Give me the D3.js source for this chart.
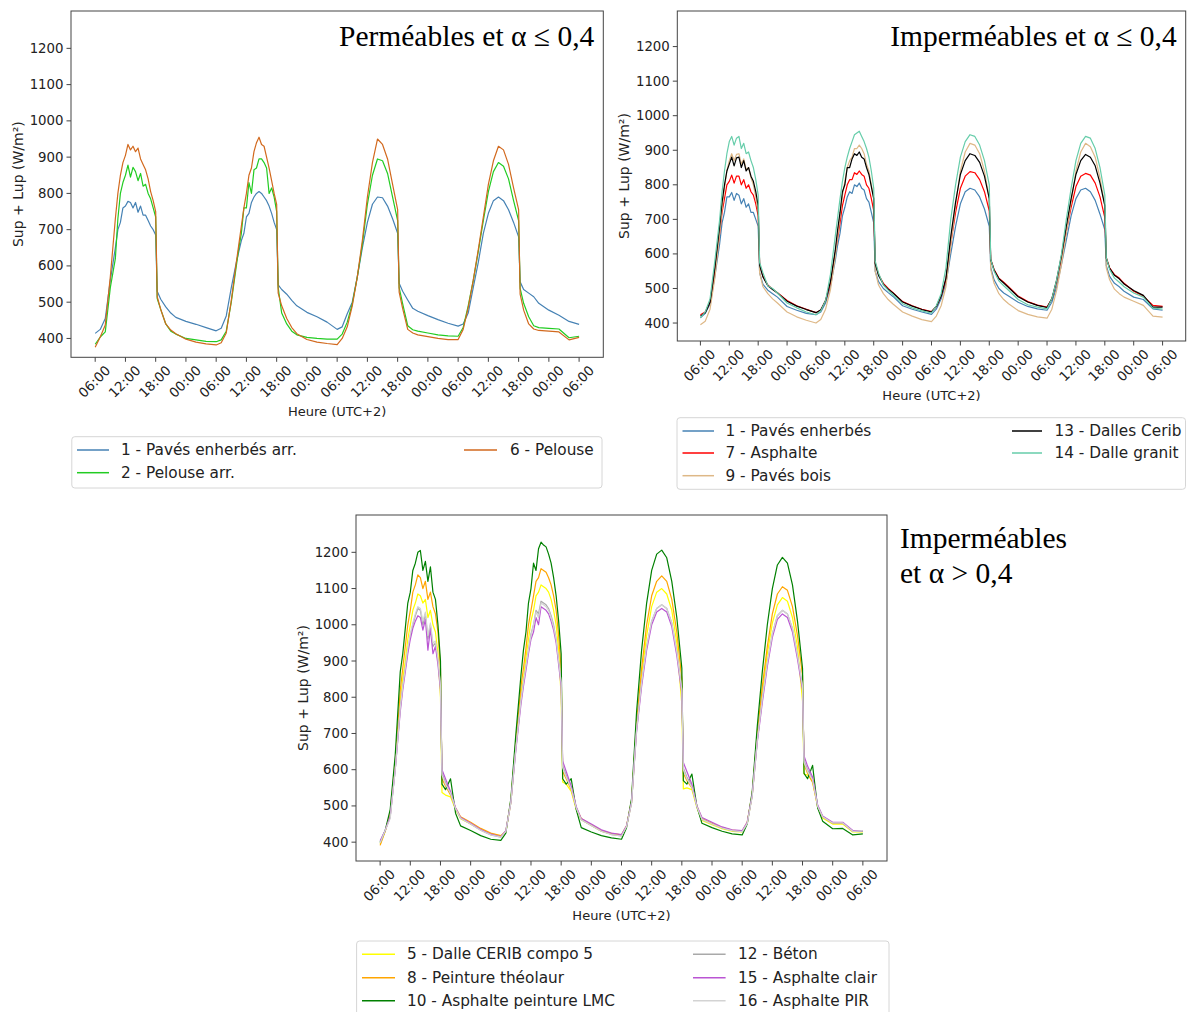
<!DOCTYPE html>
<html><head><meta charset="utf-8">
<script src="https://cdn.jsdelivr.net/npm/d3@7"></script>
<style>body{margin:0;background:#fff;} svg{display:block;}</style>
</head><body>
<svg id="c" width="1189" height="1012"></svg>
<script>
// time stamps in hours since the first 06:00 (half-hours on the two cloudy days)
const hours = [
 0,1,2,3,4,4.5,5,5.5,6,6.5,7,7.5,8,8.5,9,9.5,10,10.5,11,11.5,12,12.3,13,14,15,16,18,20,22,
 24,25,26,27,28,28.5,29,29.5,30,30.5,31,31.5,32,32.5,33,33.5,34,34.5,35,35.5,36,36.3,37,38,39,40,42,44,46,
 48,49,50,51,52,53,54,55,56,57,58,59,60,60.3,61,62,63,64,66,68,70,
 72,73,74,75,76,77,78,79,80,81,82,83,84,84.3,85,86,87,88,90,92,94,
 96];
const tickHours = [0,6,12,18,24,30,36,42,48,54,60,66,72,78,84,90,96];
const tickLabels = ["06:00","12:00","18:00","00:00","06:00","12:00","18:00","00:00","06:00","12:00","18:00","00:00","06:00","12:00","18:00","00:00","06:00"];
const yTicks = [400,500,600,700,800,900,1000,1100,1200];

// Panel 1 : Perméables et α ≤ 0,4
const p1Names = ["1 - Pavés enherbés arr.","2 - Pelouse arr.","6 - Pelouse"];
const p1_s1 = [
 414,425,455,560,650,700,720,760,765,778,775,760,775,748,765,740,740,725,710,700,685, 530,508,487,470,458,447,439,430,
 421,428,462,540,610,640,670,690,735,745,775,790,800,805,800,790,780,765,745,720,700, 548,535,522,505,490,472,460,445,
 425,432,468,500,570,650,720,770,790,788,765,730,690, 552,530,506,483,475,463,452,442,
 434,440,470,540,610,690,745,780,790,780,755,720,680, 556,535,525,515,497,478,464,447,
 439];
const p1_s2 = [
 384,404,418,540,620,730,800,830,850,878,845,872,860,835,855,820,825,800,785,760,735, 510,480,440,420,412,400,396,392,
 391,396,420,500,600,650,690,760,760,830,800,865,870,895,895,885,870,800,815,790,750, 540,470,440,420,410,403,400,398,
 398,412,445,495,570,660,770,850,895,890,855,790,725, 540,495,435,424,420,415,410,407,
 406,430,490,560,640,725,805,860,885,875,840,780,725, 538,497,460,435,430,428,426,402,
 406];
const p1_s6 = [
 376,404,437,570,730,800,850,885,905,935,920,930,915,925,895,880,865,840,805,780,750, 515,480,440,423,413,398,390,385,
 382,388,415,505,610,660,710,760,800,850,870,915,940,955,935,930,900,870,835,800,770, 525,490,455,430,413,397,390,386,
 383,400,432,490,570,670,790,885,950,935,895,825,755, 528,482,425,415,410,405,400,397,
 397,425,485,560,645,735,825,890,930,920,880,815,755, 522,478,440,426,422,420,418,396,
 403];

// Panel 2 : Imperméables et α ≤ 0,4
const p2Names = ["1 - Pavés enherbés","7 - Asphalte","9 - Pavés bois","13 - Dalles Cerib","14 - Dalle granit"];
const p2_s1 = [
 415,428,455,535,630,690,720,765,765,778,755,775,770,745,760,735,745,720,720,700,680, 545,512,495,485,475,448,437,428,
 424,432,458,505,580,625,660,710,735,765,780,775,800,795,805,790,785,760,750,720,690, 550,520,500,488,477,450,440,432,
 425,440,470,515,600,680,745,780,790,785,765,730,680, 560,525,500,487,478,460,448,441,
 437,460,505,570,640,710,760,785,790,780,755,715,670, 566,535,515,505,492,475,468,441,
 437];
const p2_s7 = [
 424,432,460,550,660,720,760,800,810,828,805,825,825,800,815,790,800,780,770,745,710, 570,535,510,498,488,465,450,440,
 430,438,465,515,600,645,690,740,770,800,815,815,835,830,840,830,825,800,790,760,725, 575,540,515,500,488,462,450,440,
 433,448,478,525,630,720,790,825,838,835,815,780,725, 585,555,530,518,505,478,462,452,
 446,470,520,590,665,735,795,825,833,828,805,765,705, 590,560,540,530,515,492,478,451,
 448];
const p2_s9 = [
 395,405,440,530,660,730,790,840,870,890,870,888,890,860,875,845,850,820,800,765,720, 545,505,485,470,458,432,418,408,
 400,410,440,495,590,650,710,770,810,850,870,880,905,905,915,905,890,860,840,800,760, 550,510,485,468,455,432,420,410,
 404,420,450,505,625,740,840,895,920,915,890,840,760, 555,515,485,468,456,436,425,418,
 414,440,495,570,660,750,840,895,920,910,880,820,740, 560,525,498,485,475,463,451,420,
 417];
const p2_s13 = [
 420,430,460,560,680,750,800,840,860,880,855,878,880,850,870,840,850,825,810,780,740, 568,533,508,497,487,463,449,439,
 430,438,465,520,610,670,720,780,800,850,850,875,890,885,895,880,875,850,830,795,760, 572,538,512,498,487,461,449,439,
 432,448,478,530,650,750,830,870,890,885,865,825,760, 583,553,528,516,503,476,461,451,
 445,470,525,595,680,760,830,870,888,880,855,805,740, 588,558,538,528,513,494,480,446,
 446];
const p2_s14 = [
 415,432,470,580,700,780,840,890,925,940,915,935,940,905,920,890,895,870,850,815,770, 575,545,508,500,487,458,444,432,
 424,435,465,540,650,705,760,810,850,880,905,925,945,950,955,940,925,905,880,840,790, 580,545,510,495,482,456,444,435,
 429,450,485,560,700,800,880,925,945,940,915,870,800, 585,550,522,508,495,468,453,446,
 441,470,525,600,700,790,870,920,940,935,905,850,770, 590,555,530,518,505,487,475,443,
 440];

// Panel 3 : Imperméables et α > 0,4
const p3Names = ["5 - Dalle CERIB compo 5","8 - Peinture théolaur","10 - Asphalte peinture LMC","12 - Béton","15 - Asphalte clair","16 - Asphalte PIR"];
const p3_s5 = [
 395,430,475,610,790,850,900,960,1000,1040,1060,1085,1080,1060,1070,1020,1040,1000,980,920,800, 537,530,525,490,465,450,434,422,
 415,428,510,670,810,850,910,960,1010,1040,1080,1090,1110,1105,1100,1090,1070,1040,1000,930,800, 566,560,540,490,462,446,430,422,
 418,443,510,720,860,970,1050,1090,1100,1085,1040,950,780, 547,550,545,495,460,448,437,430,
 428,452,530,690,810,920,1005,1055,1075,1065,1020,940,790, 588,585,570,497,467,450,450,428,
 428];
const p3_s8 = [
 391,430,480,620,820,880,940,1000,1040,1090,1110,1138,1130,1100,1120,1070,1090,1050,1030,980,880, 575,555,530,495,470,455,438,425,
 418,430,515,680,830,880,935,1000,1040,1080,1120,1130,1155,1150,1145,1130,1110,1080,1040,970,880, 595,575,545,495,465,448,432,424,
 420,445,515,730,880,1000,1080,1120,1135,1120,1070,980,850, 590,570,550,500,465,452,440,433,
 430,455,535,700,830,940,1030,1085,1105,1095,1050,970,860, 615,590,565,500,470,452,452,430,
 430];
const p3_s10 = [
 400,432,490,640,870,920,990,1060,1090,1150,1170,1200,1205,1150,1175,1120,1160,1090,1070,1000,900, 560,545,575,480,445,432,418,408,
 405,425,520,700,860,930,980,1060,1100,1170,1150,1210,1228,1220,1215,1195,1170,1130,1080,1010,920, 575,560,575,490,440,428,418,412,
 408,440,520,760,930,1060,1150,1195,1206,1185,1120,1020,880, 570,560,588,498,452,440,430,423,
 420,450,540,720,870,1000,1100,1165,1186,1170,1110,1010,880, 590,575,612,495,458,437,438,420,
 423];
const p3_s12 = [
 398,432,470,600,770,830,880,930,970,1000,1025,1045,1040,1000,1030,960,1000,940,950,900,830, 590,565,535,493,466,450,433,420,
 414,430,510,660,790,840,885,930,975,1000,1040,1030,1065,1060,1055,1045,1025,1000,960,900,840, 610,585,550,495,462,446,430,421,
 417,443,508,710,840,940,1010,1045,1055,1045,1005,925,820, 605,580,555,498,463,450,439,432,
 429,452,528,680,795,895,975,1025,1040,1030,990,915,830, 625,600,575,500,470,453,453,430,
 430];
const p3_s15 = [
 404,432,470,600,760,820,870,920,960,990,1010,1025,1020,985,1015,930,990,920,940,890,820, 600,575,540,495,468,452,435,422,
 415,432,510,655,780,830,875,920,960,980,1020,1000,1050,1045,1040,1030,1010,985,950,890,830, 624,595,555,498,465,450,434,425,
 421,445,510,705,830,930,1000,1035,1045,1035,995,915,810, 620,595,560,500,468,455,442,434,
 432,455,530,675,785,885,965,1015,1030,1020,980,905,820, 638,610,580,503,472,455,455,432,
 432];
const p3_s16 = [
 398,432,465,600,770,830,880,935,975,1005,1030,1050,1045,1010,1035,970,1005,950,955,905,830, 585,560,535,493,466,450,433,420,
 414,430,510,660,790,840,885,930,970,1000,1035,1020,1060,1055,1050,1040,1020,995,960,900,840, 605,580,548,495,462,446,430,421,
 417,443,508,710,840,940,1010,1045,1055,1045,1005,925,820, 600,575,552,498,463,450,439,432,
 429,452,528,680,795,895,975,1025,1040,1030,990,915,830, 620,595,572,500,470,453,453,430,
 432];

const svg = d3.select("#c");
const yDomain = [348, 1303];
const xDomain = [-4.8, 100.8];
const sans = "DejaVu Sans, sans-serif";
const serif = "Liberation Serif, Times New Roman, serif";

const panels = [
 {box:[71,11,603.3,357.3], names:p1Names, data:[p1_s1,p1_s2,p1_s6],
  colors:["steelblue","#22cc22","#d2691e"],
  title:["Perméables et α ≤ 0,4"], titleInside:true,
  legend:{box:[71.8,436.7,602,488], rows:[450,472.7], cols:[[77,109,121],[464,497,510]], per:2}},
 {box:[677.3,11,1185.7,341], names:p2Names, data:[p2_s1,p2_s7,p2_s9,p2_s13,p2_s14],
  colors:["steelblue","#ff0000","#deb887","#000000","#66cdaa"],
  title:["Imperméables et α ≤ 0,4"], titleInside:true,
  legend:{box:[677,417.7,1185.5,489.3], rows:[431,453,475.7], cols:[[682.5,714,725.5],[1012,1042,1054.5]], per:3}},
 {box:[356,515,887,861], names:p3Names, data:[p3_s5,p3_s8,p3_s10,p3_s12,p3_s15,p3_s16],
  colors:["#ffff00","#ffa500","#008000","#a9a9a9","#ba55d3","#d3d3d3"],
  title:["Imperméables","et α > 0,4"], titleInside:false,
  legend:{box:[356.6,941,889,1024], rows:[954.3,977.7,1000.7], cols:[[362,395,407],[693,725.6,738]], per:3}}
];

panels.forEach(p => {
  const [L,T,R,B] = p.box;
  const x = d3.scaleLinear().domain(xDomain).range([L,R]);
  const y = d3.scaleLinear().domain(yDomain).range([B,T]);
  const g = svg.append("g");
  const cid = "clip"+Math.round(L);
  svg.append("clipPath").attr("id",cid).append("rect").attr("x",L).attr("y",T).attr("width",R-L).attr("height",B-T);
  const line = d3.line().x((d,i)=>x(hours[i])).y(d=>y(d));
  const lg = g.append("g").attr("clip-path",`url(#${cid})`);
  p.data.forEach((s,k)=>{
    lg.append("path").attr("d",line(s)).attr("fill","none")
      .attr("stroke",p.colors[k]).attr("stroke-width",1.2).attr("stroke-linejoin","round");
  });
  g.append("rect").attr("x",L).attr("y",T).attr("width",R-L).attr("height",B-T)
    .attr("fill","none").attr("stroke","#444").attr("stroke-width",1);
  yTicks.forEach(v=>{
    g.append("line").attr("x1",L-4.5).attr("x2",L).attr("y1",y(v)).attr("y2",y(v)).attr("stroke","#444");
    g.append("text").attr("x",L-7.5).attr("y",y(v)).attr("text-anchor","end")
      .attr("dominant-baseline","central").attr("font-family",sans).attr("font-size",13.3)
      .attr("fill","#222").text(v);
  });
  tickHours.forEach((h,i)=>{
    g.append("line").attr("x1",x(h)).attr("x2",x(h)).attr("y1",B).attr("y2",B+4.5).attr("stroke","#444");
    g.append("text").attr("transform",`translate(${x(h)-0.8},${B+24.4}) rotate(-45)`)
      .attr("text-anchor","middle").attr("dominant-baseline","central")
      .attr("font-family",sans).attr("font-size",13.3).attr("fill","#222").text(tickLabels[i]);
  });
  g.append("text").attr("x",(L+R)/2).attr("y",B+54).attr("text-anchor","middle")
    .attr("dominant-baseline","central").attr("font-family",sans).attr("font-size",13)
    .attr("fill","#222").text("Heure (UTC+2)");
  g.append("text").attr("transform",`translate(${L-53.5},${(T+B)/2}) rotate(-90)`)
    .attr("text-anchor","middle").attr("dominant-baseline","central")
    .attr("font-family",sans).attr("font-size",14).attr("fill","#222").text("Sup + Lup (W/m²)");
  if (p.titleInside) {
    g.append("text").attr("x",R-9).attr("y",T+35).attr("text-anchor","end")
      .attr("font-family",serif).attr("font-size",29.5).attr("fill","#000").text(p.title[0]);
  } else {
    p.title.forEach((t,i)=>{
      g.append("text").attr("x",R+13).attr("y",T+33+i*35).attr("text-anchor","start")
        .attr("font-family",serif).attr("font-size",29.5).attr("fill","#000").text(t);
    });
  }
  const lgd = p.legend;
  const [bx0,by0,bx1,by1] = lgd.box;
  g.append("rect").attr("x",bx0).attr("y",by0).attr("width",bx1-bx0).attr("height",by1-by0)
    .attr("rx",3).attr("fill","#fff").attr("stroke","#d6d6d6").attr("stroke-width",1);
  p.names.forEach((n,k)=>{
    const col = Math.floor(k/lgd.per), row = k%lgd.per;
    const [h0,h1,tx] = lgd.cols[col];
    const ry = lgd.rows[row];
    g.append("line").attr("x1",h0).attr("x2",h1).attr("y1",ry).attr("y2",ry)
      .attr("stroke",p.colors[k]).attr("stroke-width",1.5);
    g.append("text").attr("x",tx).attr("y",ry).attr("dominant-baseline","central")
      .attr("font-family",sans).attr("font-size",15.3).attr("fill","#222").text(n);
  });
});
</script>
</body></html>
